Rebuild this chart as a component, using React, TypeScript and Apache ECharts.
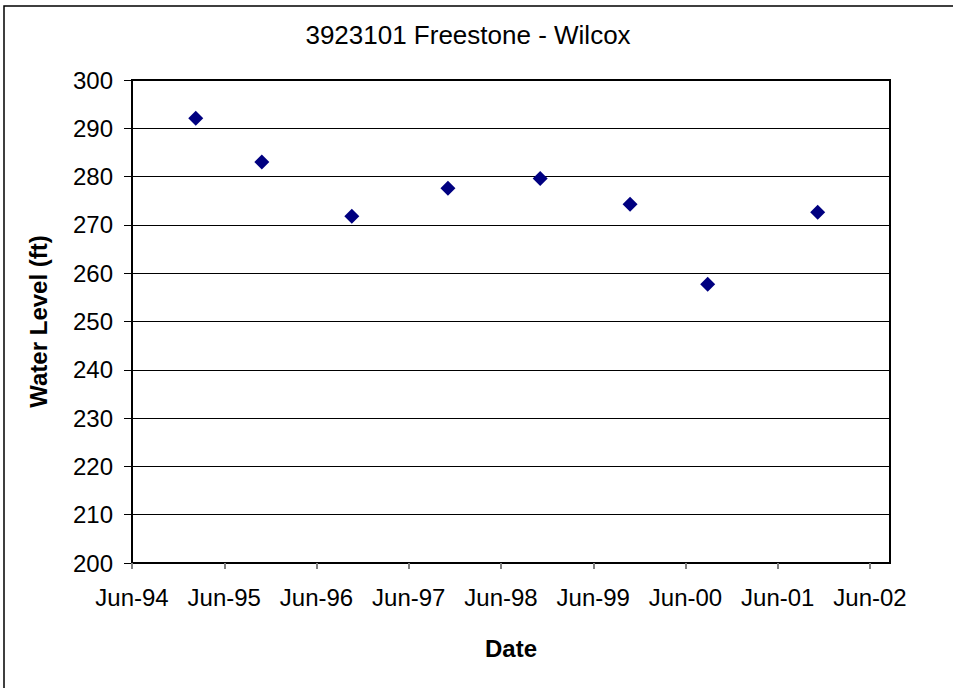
import React, { useEffect, useRef } from "react";
import * as echarts from "echarts";

const TITLE = "3923101 Freestone - Wilcox";
const Y_NAME = "Water Level (ft)";
const X_NAME = "Date";

// Measurement dates and water levels
const dates = [
  "1995-02-10",
  "1995-10-28",
  "1996-10-19",
  "1997-11-04",
  "1998-11-04",
  "1999-10-25",
  "2000-08-28",
  "2001-11-07",
];
const levels = [292.1, 283.0, 271.8, 277.6, 279.6, 274.3, 257.7, 272.6];

const xTickLabels = [
  "Jun-94",
  "Jun-95",
  "Jun-96",
  "Jun-97",
  "Jun-98",
  "Jun-99",
  "Jun-00",
  "Jun-01",
  "Jun-02",
];
const yTicks = [200, 210, 220, 230, 240, 250, 260, 270, 280, 290, 300];

// x axis is measured in months since 1 Jun 1994
const monthsSinceStart = (d: string) => {
  const [y, m, day] = d.split("-").map(Number);
  return (y - 1994) * 12 + (m - 6) + (day - 1) / 30.44;
};
const X_MAX_MONTHS = 98.6;

export default function App() {
  const ref = useRef<HTMLDivElement>(null);
  useEffect(() => {
    if (!ref.current) return;
    const chart = echarts.init(ref.current, undefined, { renderer: "svg" });
    const font = "'Liberation Sans', Arial, sans-serif";
    const tickValues = xTickLabels.map((_, i) => i * 12);
    chart.setOption({
      animation: false,
      backgroundColor: "#ffffff",
      textStyle: { fontFamily: font },
      graphic: [
        {
          type: "rect",
          shape: { x: 4, y: 6, width: 1000, height: 800 },
          style: { fill: "none", stroke: "#000", lineWidth: 1.5 },
          silent: true,
        },
        {
          type: "text",
          x: 468,
          y: 35,
          style: {
            text: TITLE,
            fontFamily: font,
            fontSize: 26,
            fill: "#000",
            textAlign: "center",
            textVerticalAlign: "middle",
          },
        },
      ],
      grid: {
        left: 132,
        top: 80,
        right: 63,
        bottom: 125,
        show: true,
        borderColor: "#000",
        borderWidth: 2,
        backgroundColor: "#fff",
      },
      xAxis: {
        type: "value",
        min: 0,
        max: X_MAX_MONTHS,
        interval: 12,
        name: X_NAME,
        nameLocation: "middle",
        nameGap: 73,
        nameTextStyle: { fontFamily: font, fontSize: 24, fontWeight: "bold", color: "#000" },
        axisLine: { show: true, lineStyle: { color: "#000", width: 2 } },
        axisTick: {
          show: true,
          length: 6,
          customValues: tickValues,
          lineStyle: { color: "#808080", width: 2 },
        },
        axisLabel: {
          customValues: tickValues,
          fontFamily: font,
          fontSize: 24,
          color: "#000",
          margin: 22,
          formatter: (v: number) => xTickLabels[Math.round(v / 12)] ?? "",
        },
        splitLine: { show: false },
      },
      yAxis: {
        type: "value",
        min: yTicks[0],
        max: yTicks[yTicks.length - 1],
        interval: 10,
        name: Y_NAME,
        nameLocation: "middle",
        nameGap: 82,
        nameTextStyle: { fontFamily: font, fontSize: 24, fontWeight: "bold", color: "#000" },
        axisLine: { show: true, lineStyle: { color: "#000", width: 2 } },
        axisTick: { show: true, length: 8, lineStyle: { color: "#000", width: 1 } },
        axisLabel: { fontFamily: font, fontSize: 24, color: "#000", margin: 19 },
        splitLine: { show: true, lineStyle: { color: "#000", width: 1 } },
      },
      series: [
        {
          type: "scatter",
          symbol: "diamond",
          symbolSize: 15,
          itemStyle: { color: "#000080", opacity: 1 },
          data: dates.map((d, i) => [monthsSinceStart(d), levels[i]]),
        },
      ],
    });
    return () => chart.dispose();
  }, []);
  return (
    <div
      ref={ref}
      style={{ position: "fixed", left: 0, top: 0, width: 953, height: 688 }}
    />
  );
}
